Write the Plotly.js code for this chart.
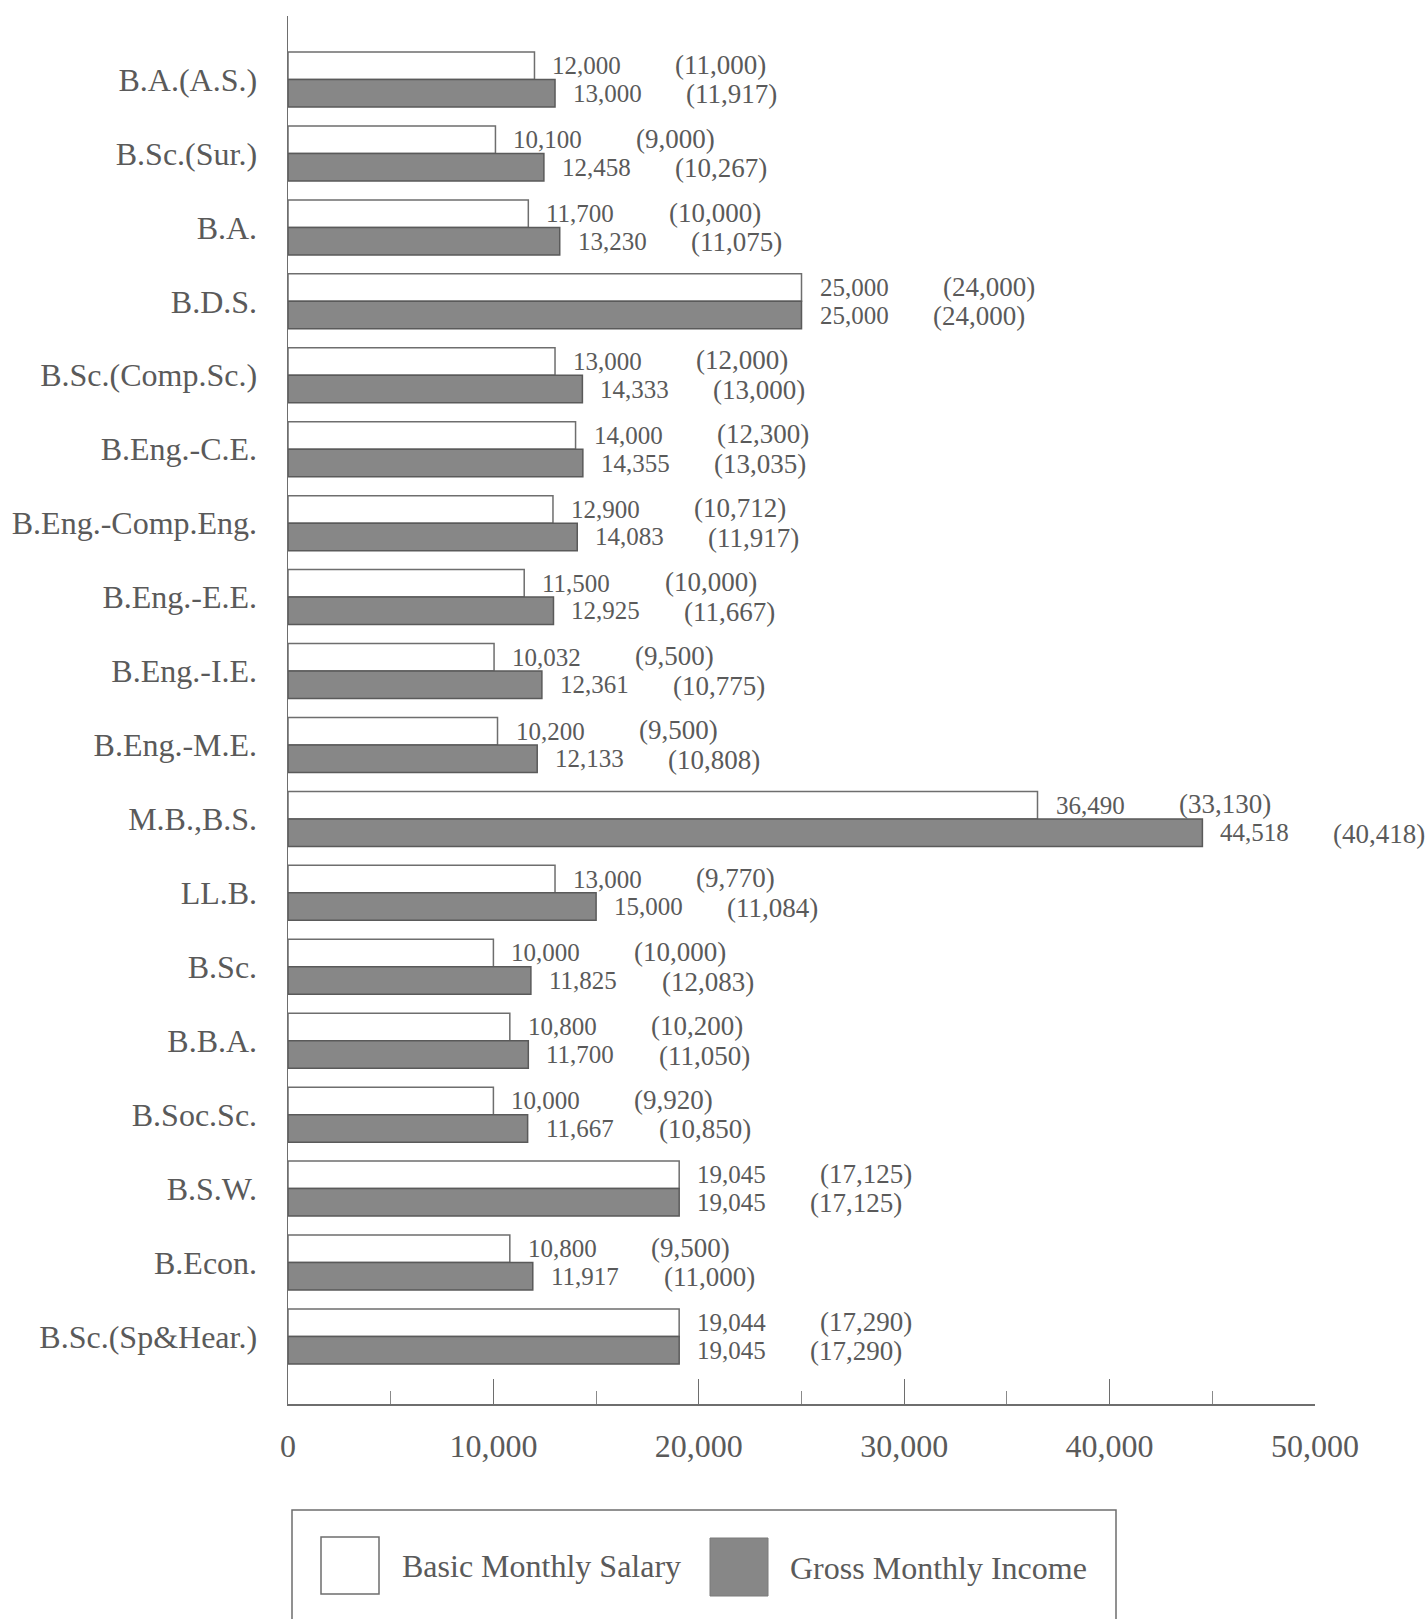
<!DOCTYPE html>
<html>
<head>
<meta charset="utf-8">
<script src="https://cdn.plot.ly/plotly-3.0.1.min.js"></script>
<style>html,body{margin:0;padding:0;background:#fff;}#chart{width:1426px;height:1619px;}</style>
</head>
<body>
<div id="chart"></div>
<script>
// ---- data ----
const categories = ["B.A.(A.S.)","B.Sc.(Sur.)","B.A.","B.D.S.","B.Sc.(Comp.Sc.)","B.Eng.-C.E.","B.Eng.-Comp.Eng.","B.Eng.-E.E.","B.Eng.-I.E.","B.Eng.-M.E.","M.B.,B.S.","LL.B.","B.Sc.","B.B.A.","B.Soc.Sc.","B.S.W.","B.Econ.","B.Sc.(Sp&Hear.)"];
const seriesNames = ["Basic Monthly Salary","Gross Monthly Income"];
const basicSalary = [12000,10100,11700,25000,13000,14000,12900,11500,10032,10200,36490,13000,10000,10800,10000,19045,10800,19044];
const grossIncome = [13000,12458,13230,25000,14333,14355,14083,12925,12361,12133,44518,15000,11825,11700,11667,19045,11917,19045];
const basicParen = [11000,9000,10000,24000,12000,12300,10712,10000,9500,9500,33130,9770,10000,10200,9920,17125,9500,17290];
const grossParen = [11917,10267,11075,24000,13000,13035,11917,11667,10775,10808,40418,11084,12083,11050,10850,17125,11000,17290];
const xTickVals = [0,10000,20000,30000,40000,50000];
const xTickText = ["0","10,000","20,000","30,000","40,000","50,000"];

// ---- layout constants ----
const W = 1426, H = 1619;
const L = 288, R = 111, T = 16, B = 215;
const plotW = W - L - R, plotH = H - T - B;
const FONT = "Liberation Serif, Times New Roman, serif";
const TXT = "#5a5a5a";
const LINE = "#6e6e6e";
const GRAY = "#878787";

const fmt = v => v.toLocaleString("en-US");
const px2x = p => (p - L) / plotW;
const px2y = p => (H - B - p) / plotH;

const traces = [
  {type:"bar", orientation:"h", name:seriesNames[0], y:categories, x:basicSalary,
   marker:{color:"#ffffff", line:{color:LINE, width:1.5}}, hoverinfo:"x+y"},
  {type:"bar", orientation:"h", name:seriesNames[1], y:categories, x:grossIncome,
   marker:{color:GRAY, line:{color:"#5a5a5a", width:1.5}}, hoverinfo:"x+y"}
];

const annotations = [];
const barHalf = 13.8;
categories.forEach((c, i) => {
  annotations.push({x:basicSalary[i], y:c, xref:"x", yref:"y", text:fmt(basicSalary[i]), showarrow:false,
    xanchor:"left", yanchor:"middle", xshift:16, yshift:barHalf, font:{family:FONT, size:25, color:TXT}});
  annotations.push({x:grossIncome[i], y:c, xref:"x", yref:"y", text:fmt(grossIncome[i]), showarrow:false,
    xanchor:"left", yanchor:"middle", xshift:16, yshift:-barHalf, font:{family:FONT, size:25, color:TXT}});
  annotations.push({x:basicSalary[i], y:c, xref:"x", yref:"y", text:"(" + fmt(basicParen[i]) + ")", showarrow:false,
    xanchor:"left", yanchor:"middle", xshift:139, yshift:barHalf + 1, font:{family:FONT, size:27, color:TXT}});
  annotations.push({x:grossIncome[i], y:c, xref:"x", yref:"y", text:"(" + fmt(grossParen[i]) + ")", showarrow:false,
    xanchor:"left", yanchor:"middle", xshift:129, yshift:-barHalf - 1, font:{family:FONT, size:27, color:TXT}});
});

// legend drawn manually
const shapes = [
  {type:"rect", xref:"paper", yref:"paper", x0:px2x(292), x1:px2x(1116), y0:px2y(1660), y1:px2y(1510),
   line:{color:LINE, width:1.5}, fillcolor:"rgba(0,0,0,0)"},
  {type:"rect", xref:"paper", yref:"paper", x0:px2x(321), x1:px2x(379), y0:px2y(1594), y1:px2y(1537),
   line:{color:LINE, width:1.5}, fillcolor:"#ffffff"},
  {type:"rect", xref:"paper", yref:"paper", x0:px2x(710), x1:px2x(768), y0:px2y(1596), y1:px2y(1538),
   line:{color:"#7a7a7a", width:1}, fillcolor:GRAY}
];
annotations.push({xref:"paper", yref:"paper", x:px2x(400), y:px2y(1566), text:seriesNames[0], showarrow:false,
  xanchor:"left", yanchor:"middle", font:{family:FONT, size:32, color:TXT}});
annotations.push({xref:"paper", yref:"paper", x:px2x(788), y:px2y(1568), text:seriesNames[1], showarrow:false,
  xanchor:"left", yanchor:"middle", font:{family:FONT, size:32, color:TXT}});

const layout = {
  width:W, height:H,
  margin:{l:L, r:R, t:T, b:B, pad:0},
  paper_bgcolor:"#ffffff", plot_bgcolor:"#ffffff",
  barmode:"group", bargap:0.256, bargroupgap:0,
  showlegend:false,
  xaxis:{range:[0,50000], tickvals:xTickVals, ticktext:xTickText, ticks:"inside", ticklen:25, tickwidth:1.2,
    tickcolor:LINE, showline:true, linecolor:LINE, linewidth:1.5, showgrid:false, zeroline:false,
    ticklabelstandoff:13, tickfont:{family:FONT, size:32, color:TXT},
    minor:{dtick:5000, tick0:0, ticks:"inside", ticklen:13, tickwidth:1, tickcolor:"#8a8a8a", showgrid:false}},
  yaxis:{type:"category", range:[17.913,-0.859], showline:true, linecolor:LINE, linewidth:1.5, ticks:"",
    showgrid:false, zeroline:false, ticklabelstandoff:23, tickfont:{family:FONT, size:32, color:TXT}},
  annotations:annotations,
  shapes:shapes
};

Plotly.newPlot("chart", traces, layout, {displayModeBar:false, staticPlot:true});
</script>
</body>
</html>
